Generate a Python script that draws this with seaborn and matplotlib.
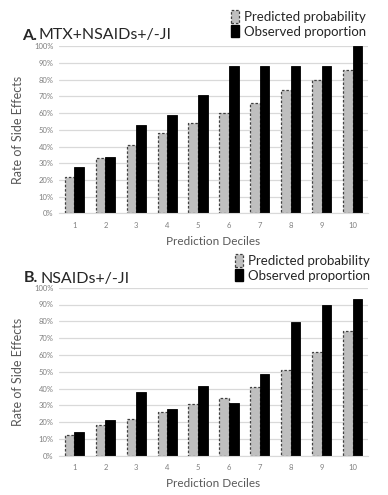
import numpy as np
import pandas as pd
import matplotlib
matplotlib.use("Agg")
import matplotlib.pyplot as plt
import seaborn as sns
from matplotlib.patches import Patch

# Dados
deciles = ["1", "2", "3", "4", "5", "6", "7", "8", "9", "10"]
series = ["Predicted probability", "Observed proportion"]

pred_a = [0.22, 0.33, 0.41, 0.48, 0.54, 0.60, 0.66, 0.74, 0.80, 0.86]
obs_a = [0.28, 0.335, 0.53, 0.59, 0.71, 0.885, 0.885, 0.885, 0.885, 1.00]

pred_b = [0.125, 0.18, 0.22, 0.26, 0.305, 0.345, 0.41, 0.51, 0.615, 0.745]
obs_b = [0.14, 0.21, 0.38, 0.28, 0.415, 0.315, 0.485, 0.795, 0.895, 0.93]

sns.set_style("white")
plt.rcParams["font.family"] = ["Lato", "DejaVu Sans"]

W, H = 388, 495
fig = plt.figure(figsize=(W / 100, H / 100), dpi=100)

grid_c = "#d9d9d9"
tick_c = "#7f7f7f"
label_c = "#595959"
pred_fill = "#bfbfbf"
pred_edge = "#404040"


def painel(ax, pred, obs):
    df = pd.DataFrame({
        "decile": deciles * 2,
        "value": pred + obs,
        "serie": [series[0]] * 10 + [series[1]] * 10,
    })
    sns.barplot(data=df, x="decile", y="value", hue="serie", order=deciles,
                hue_order=series, width=0.62, gap=0, legend=False, ax=ax)
    for bar in ax.containers[0]:
        bar.set_facecolor(pred_fill)
        bar.set_edgecolor(pred_edge)
        bar.set_linestyle((0, (2, 1.5)))
        bar.set_linewidth(0.9)
    for bar in ax.containers[1]:
        bar.set_facecolor("black")
        bar.set_edgecolor("black")
        bar.set_linewidth(0.6)
    ax.set_xlim(-0.5, 9.5)
    ax.set_ylim(0, 1.0)
    ax.set_yticks(np.arange(0, 1.01, 0.1))
    ax.set_yticklabels([f"{int(round(v * 100))}%" for v in np.arange(0, 1.01, 0.1)])
    ax.yaxis.grid(True, color=grid_c, linewidth=0.9)
    ax.set_axisbelow(True)
    for s in ["top", "right", "left"]:
        ax.spines[s].set_visible(False)
    ax.spines["bottom"].set_color(grid_c)
    ax.tick_params(axis="both", length=0, labelsize=5.5, colors=tick_c)
    ax.tick_params(axis="y", pad=4)
    ax.tick_params(axis="x", pad=6)
    ax.set_xlabel("Prediction Deciles", fontsize=8.5, color=label_c, labelpad=5)
    ax.set_ylabel("Rate of Side Effects", fontsize=9, color=label_c, labelpad=7)


ax_a = fig.add_axes([59 / W, 1 - 213.3 / H, 309 / W, 167 / H])
painel(ax_a, pred_a, obs_a)
ax_b = fig.add_axes([59 / W, 1 - 455.7 / H, 309 / W, 168 / H])
painel(ax_b, pred_b, obs_b)

# Títulos
fig.text(22 / W, 1 - 39.5 / H, "A.", fontsize=11.5, fontweight="bold", va="baseline")
fig.text(39 / W, 1 - 39.5 / H, "MTX+NSAIDs+/-JI", fontsize=11.5, va="baseline")
fig.text(24 / W, 1 - 282.5 / H, "B.", fontsize=11.5, fontweight="bold", va="baseline")
fig.text(40 / W, 1 - 282.5 / H, "NSAIDs+/-JI", fontsize=11.5, va="baseline")

# Legendas
handles = [
    Patch(facecolor=pred_fill, edgecolor=pred_edge, linestyle=(0, (2, 1.5)), linewidth=0.9),
    Patch(facecolor="black", edgecolor="black"),
]
for x0, y0 in [(231, 10), (235, 254)]:
    fig.legend(handles, series, loc="upper left",
               bbox_to_anchor=(x0 / W, 1 - y0 / H), frameon=False,
               fontsize=9.5, handlelength=0.6, handleheight=1.1,
               handletextpad=0.35, labelspacing=0.15, borderpad=0,
               borderaxespad=0)

fig.savefig("out.png", dpi=100)
